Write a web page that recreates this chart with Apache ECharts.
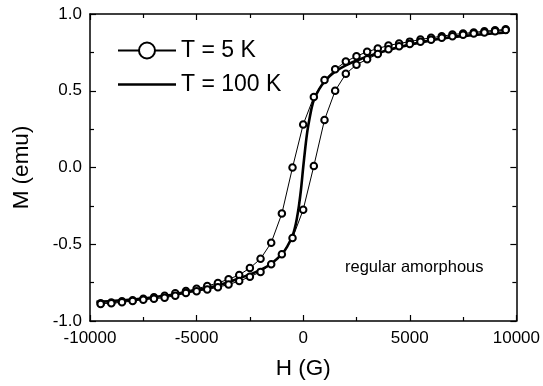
<!DOCTYPE html>
<html>
<head>
<meta charset="utf-8">
<script src="https://cdn.jsdelivr.net/npm/echarts@6/dist/echarts.min.js"></script>
<style>
html,body{margin:0;padding:0;background:#fff;}
#chart{width:543px;height:386px;}
</style>
</head>
<body>
<div id="chart"></div>
<script>
// T = 5 K loop: descending branch (+H -> -H), then ascending branch (-H -> +H)
const descH = [9500,9000,8500,8000,7500,7000,6500,6000,5500,5000,4500,4000,3500,3000,2500,2000,1500,1000,500,0,-500,-1000,-1500,-2000,-2500,-3000,-3500,-4000,-4500,-5000,-5500,-6000,-6500,-7000,-7500,-8000,-8500,-9000,-9500];
const descM = [0.900,0.894,0.888,0.880,0.873,0.866,0.855,0.845,0.834,0.820,0.808,0.795,0.775,0.754,0.725,0.690,0.640,0.570,0.460,0.280,0.000,-0.300,-0.490,-0.595,-0.655,-0.700,-0.728,-0.752,-0.772,-0.790,-0.805,-0.820,-0.835,-0.845,-0.855,-0.865,-0.872,-0.880,-0.885];
const ascH = [-9500,-9000,-8500,-8000,-7500,-7000,-6500,-6000,-5500,-5000,-4500,-4000,-3500,-3000,-2500,-2000,-1500,-1000,-500,0,500,1000,1500,2000,2500,3000,3500,4000,4500,5000,5500,6000,6500,7000,7500,8000,8500,9000,9500];
const ascM = [-0.890,-0.885,-0.878,-0.870,-0.862,-0.855,-0.848,-0.835,-0.818,-0.806,-0.795,-0.780,-0.762,-0.740,-0.712,-0.680,-0.630,-0.565,-0.460,-0.275,0.010,0.310,0.500,0.610,0.670,0.705,0.740,0.770,0.790,0.805,0.820,0.832,0.845,0.855,0.865,0.873,0.880,0.888,0.895];

// T = 100 K curve
const h100 = [-9700,-9000,-8000,-7000,-6000,-5000,-4000,-3500,-3000,-2500,-2000,-1500,-1000,-750,-500,-400,-300,-200,-100,0,100,200,300,400,500,750,1000,1500,2000,2500,3000,3500,4000,5000,6000,7000,8000,9000,9600];
const m100 = [-0.875,-0.870,-0.860,-0.845,-0.826,-0.800,-0.768,-0.748,-0.722,-0.697,-0.667,-0.627,-0.565,-0.515,-0.445,-0.400,-0.335,-0.250,-0.140,0.000,0.130,0.240,0.320,0.390,0.440,0.510,0.560,0.625,0.665,0.697,0.722,0.745,0.765,0.800,0.828,0.848,0.863,0.875,0.880];

const xTicks = {min:-10000, max:10000, interval:5000};
const yTicks = {min:-1.0, max:1.0, interval:0.5};
const seriesNames = ['T = 5 K','T = 100 K'];
const note = 'regular amorphous';

const loopData = descH.map((h,i)=>[h,descM[i]]).concat(ascH.map((h,i)=>[h,ascM[i]]));
const curveData = h100.map((h,i)=>[h,m100[i]]);

const FONT = 'Liberation Sans';
const axisCommon = {
  axisLine:{show:true,onZero:false,lineStyle:{color:'#000',width:1.5}},
  axisTick:{show:true,inside:true,length:6,lineStyle:{color:'#000',width:1.2}},
  minorTick:{show:true,splitNumber:2,length:4,lineStyle:{color:'#000',width:1.2}},
  splitLine:{show:false}
};

const chart = echarts.init(document.getElementById('chart'), null, {renderer:'canvas'});
chart.setOption({
  animation:false,
  backgroundColor:'#fff',
  grid:{left:90,right:26,top:14,bottom:65},
  legend:{
    left:117, top:39, orient:'vertical', padding:0,
    itemWidth:58, itemHeight:20, itemGap:11,
    textStyle:{fontFamily:FONT,fontSize:23,color:'#000'},
    data:[
      {name:seriesNames[0]},
      {name:seriesNames[1], icon:'path://M0,0L58,0L58,2.4L0,2.4Z', itemStyle:{color:'#000'}}
    ]
  },
  xAxis:[
    Object.assign({type:'value',position:'bottom',min:xTicks.min,max:xTicks.max,interval:xTicks.interval,
      name:'H (G)',nameLocation:'middle',nameGap:36,
      nameTextStyle:{fontFamily:FONT,fontSize:22.5,color:'#000'},
      axisLabel:{fontFamily:FONT,fontSize:17,color:'#000',margin:9,formatter:v=>String(v)}},axisCommon),
    Object.assign({type:'value',position:'top',min:xTicks.min,max:xTicks.max,interval:xTicks.interval,
      axisLabel:{show:false}},axisCommon)
  ],
  yAxis:[
    Object.assign({type:'value',position:'left',min:yTicks.min,max:yTicks.max,interval:yTicks.interval,
      name:'M (emu)',nameLocation:'middle',nameGap:57,nameRotate:90,
      nameTextStyle:{fontFamily:FONT,fontSize:22.5,color:'#000'},
      axisLabel:{fontFamily:FONT,fontSize:17,color:'#000',margin:8,formatter:v=>v.toFixed(1)}},axisCommon),
    Object.assign({type:'value',position:'right',min:yTicks.min,max:yTicks.max,interval:yTicks.interval,
      axisLabel:{show:false}},axisCommon)
  ],
  series:[
    {
      name:seriesNames[0], type:'line', data:loopData,
      symbol:'emptyCircle', symbolSize:6.5, showAllSymbol:true,
      lineStyle:{color:'#000',width:1},
      itemStyle:{color:'#000',borderColor:'#000',borderWidth:0.8},
      z:3
    },
    {
      name:seriesNames[1], type:'line', data:curveData,
      symbol:'none', smooth:0.3,
      lineStyle:{color:'#000',width:2.6},
      itemStyle:{color:'#000'},
      z:2
    }
  ],
  graphic:[
    {type:'text',left:345,top:259,style:{text:note,font:'16.5px "Liberation Sans"',fill:'#000'}}
  ]
});
</script>
</body>
</html>
